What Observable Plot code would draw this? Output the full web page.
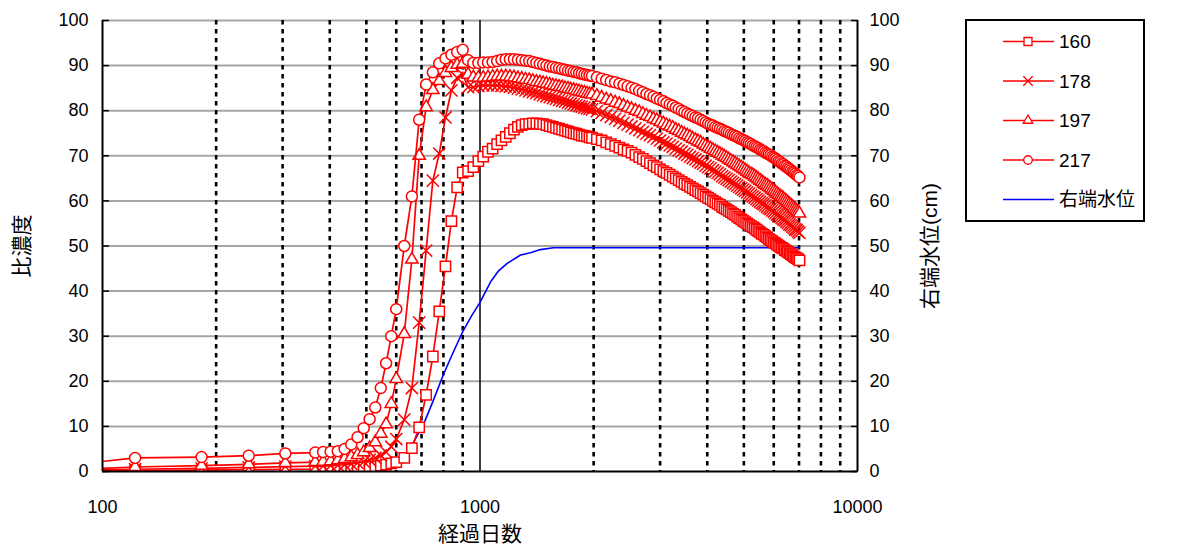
<!DOCTYPE html>
<html><head><meta charset="utf-8">
<script src="https://cdn.jsdelivr.net/npm/d3@7"></script>
<script src="https://cdn.jsdelivr.net/npm/@observablehq/plot@0.6"></script>
<style>
body{margin:0;background:#fff;}
#wrap{position:relative;width:1178px;height:550px;font-family:"Liberation Sans","Noto Sans CJK JP",sans-serif;}
#legend{position:absolute;left:965px;top:19px;width:176px;height:199px;border:2px solid #000;background:#fff;}
#legend svg{display:block;}
</style></head><body><div id="wrap"></div><script>
// ---- data ----
const days = [61,122,183,244,305,
366,384,402,420,438,456,474,492,510,528,546,564,582,
600,630,660,690,720,750,780,810,840,870,900,930,960,990,1020,1050,1080,1110,1140,1170,1200,1230,1260,1290,1320,1350,1380,1410,1440,1470,1500,1530,1560,1590,1620,1650,1680,1710,1740,1770,1800,1830,1860,1890,1920,1950,1980,
2040,2100,2160,2220,2280,2340,2400,2460,
2520,2580,2640,2700,2760,2820,2880,2940,
3000,3060,3120,3180,3240,3300,3360,3420,3480,
3540,3600,3660,3720,3780,3840,3900,3960,
4020,4080,4140,4200,4260,4320,4380,4440,4500,
4560,4620,4680,4740,4800,4860,4920,4980,
5040,5100,5160,5220,5280,5340,5400,5460,
5520,5580,5640,5700,5760,5820,5880,5940,6000,
6060,6120,6180,6240,6300,6360,6420,6480,
6540,6600,6660,6720,6780,6840,6900,6960,7020];

const c160 = [0.0,0.2,0.3,0.4,0.5,
0.5,0.5,0.6,0.6,0.7,0.7,0.8,0.9,1.0,1.1,1.3,1.5,1.8,
2.1,3.0,5.2,9.8,17.0,25.5,35.5,45.5,55.5,63.0,66.3,66.6,67.5,68.8,69.8,70.9,71.6,72.6,73.4,74.2,75.0,75.8,76.4,76.8,77.0,77.1,77.2,77.2,77.1,77.0,76.8,76.6,76.4,76.2,76.0,75.8,75.6,75.4,75.2,75.0,74.9,74.7,74.5,74.4,74.3,74.1,74.0,
73.7,73.4,73.0,72.6,72.2,71.8,71.4,71.1,
70.7,70.2,69.7,69.3,68.8,68.4,67.9,67.5,
67.0,66.6,66.2,65.8,65.4,65.0,64.6,64.2,63.8,
63.5,63.1,62.8,62.4,62.1,61.7,61.4,61.0,
60.7,60.4,60.0,59.7,59.4,59.1,58.7,58.4,58.1,
57.8,57.5,57.2,56.9,56.5,56.2,55.9,55.6,
55.3,55.0,54.7,54.4,54.2,53.9,53.6,53.3,
53.0,52.7,52.5,52.2,51.9,51.6,51.3,51.1,50.8,
50.6,50.3,50.1,49.8,49.6,49.4,49.1,48.9,
48.7,48.4,48.2,48.0,47.7,47.5,47.3,47.1,46.8];

const c178 = [0.0,0.5,0.7,0.9,1.1,
1.2,1.2,1.3,1.4,1.5,1.7,1.9,2.2,2.6,3.0,3.6,4.3,5.5,
7.2,11.5,18.5,33.0,49.0,64.5,70.5,78.5,84.5,87.3,88.0,85.2,85.2,85.5,85.6,85.6,85.6,85.6,85.5,85.4,85.3,85.1,84.9,84.7,84.5,84.3,84.1,83.9,83.6,83.4,83.2,83.0,82.8,82.6,82.4,82.2,82.0,81.8,81.6,81.4,81.2,81.0,80.9,80.7,80.5,80.4,80.3,
79.9,79.5,79.0,78.6,78.2,77.8,77.3,76.9,
76.5,76.1,75.7,75.3,74.9,74.6,74.2,73.8,
73.4,73.0,72.7,72.3,72.0,71.6,71.2,70.9,70.5,
70.2,69.8,69.5,69.2,68.8,68.5,68.2,67.8,
67.5,67.2,66.8,66.5,66.2,65.9,65.5,65.2,64.9,
64.6,64.3,64.0,63.7,63.4,63.1,62.8,62.5,
62.2,61.9,61.6,61.3,61.0,60.7,60.4,60.1,
59.8,59.5,59.3,59.0,58.7,58.4,58.2,57.9,57.6,
57.3,57.0,56.8,56.5,56.2,55.9,55.7,55.4,
55.1,54.8,54.6,54.3,54.0,53.7,53.5,53.2,52.9];

const c197 = [0.0,1.0,1.3,1.6,1.9,
2.1,2.2,2.3,2.5,2.8,3.2,3.7,4.3,5.2,6.5,8.4,10.5,15.0,
20.5,30.5,47.0,70.0,80.8,84.6,86.6,88.4,89.5,90.2,90.4,88.0,87.4,87.3,87.3,87.4,87.5,87.6,87.6,87.6,87.5,87.4,87.2,87.1,86.9,86.8,86.6,86.4,86.3,86.1,86.0,85.8,85.6,85.5,85.3,85.2,85.0,84.9,84.7,84.6,84.4,84.3,84.1,84.0,83.8,83.7,83.6,
83.3,82.9,82.5,82.2,81.8,81.5,81.1,80.7,
80.4,80.0,79.7,79.3,78.9,78.6,78.2,77.9,
77.5,77.2,76.8,76.5,76.2,75.8,75.5,75.1,74.8,
74.5,74.2,73.8,73.5,73.2,72.9,72.5,72.2,
71.9,71.6,71.3,71.0,70.7,70.4,70.1,69.8,69.5,
69.2,68.9,68.6,68.3,68.0,67.7,67.4,67.1,
66.8,66.5,66.2,65.9,65.7,65.4,65.1,64.8,
64.5,64.2,63.9,63.6,63.4,63.1,62.8,62.5,62.2,
61.9,61.6,61.3,61.0,60.8,60.5,60.2,59.9,
59.6,59.3,59.0,58.7,58.4,58.1,57.8,57.5,57.2];

const c217 = [0.3,3.0,3.2,3.5,4.0,
4.2,4.3,4.4,4.5,5.0,6.0,7.6,9.6,11.6,14.2,18.5,24.0,30.0,
36.0,50.0,61.0,78.0,85.8,88.5,90.5,91.6,92.4,93.0,93.5,91.2,90.6,90.6,90.7,90.7,90.8,91.0,91.3,91.4,91.4,91.4,91.3,91.2,91.1,91.0,90.8,90.6,90.4,90.2,90.0,89.8,89.7,89.5,89.4,89.2,89.1,88.9,88.8,88.6,88.5,88.3,88.2,88.0,87.9,87.8,87.7,
87.4,87.1,86.8,86.5,86.3,86.0,85.7,85.4,
85.1,84.8,84.4,84.1,83.7,83.4,83.1,82.7,
82.4,82.1,81.7,81.4,81.1,80.7,80.4,80.0,79.7,
79.4,79.1,78.8,78.5,78.3,78.0,77.7,77.4,
77.1,76.9,76.7,76.4,76.2,76.0,75.8,75.5,75.3,
75.1,74.8,74.6,74.4,74.2,73.9,73.7,73.5,
73.3,73.0,72.8,72.6,72.3,72.1,71.9,71.7,
71.4,71.2,71.0,70.7,70.5,70.3,70.1,69.8,69.6,
69.4,69.1,68.8,68.6,68.3,68.1,67.8,67.6,
67.3,67.1,66.8,66.5,66.3,66.0,65.7,65.5,65.2];

const waterDays = [61,183,366,450,500,550,590,623,667,709,750,800,850,900,950,1000,1066,1120,1183,1281,1360,1446,1566,2000,3000,4000,5000,6000,7020];
const waterLevel = [0,0,0,0.1,0.3,0.7,1.3,3.0,6.5,10.5,15.5,21.5,26.5,31.0,34.5,37.5,42.0,44.5,46.2,48.0,48.5,49.2,49.6,49.6,49.6,49.6,49.6,49.6,49.6];

const seriesNames = ["160","178","197","217"];
const seriesValues = [c160, c178, c197, c217];
const seriesSymbols = ["square","times","triangle2","circle"];
const seriesR = [5.8, 5.6, 5.9, 5.5];
const waterName = "右端水位";

const xTicks = [100, 1000, 10000];
const minorXTicks = [200,300,400,500,600,700,800,900,2000,3000,4000,5000,6000,7000,8000,9000];
const yTicks = [0,10,20,30,40,50,60,70,80,90,100];
const yLabelLeft = "比濃度";
const yLabelRight = "右端水位(cm)";
const xLabel = "経過日数";

const RED = "#ff0000", BLUE = "#0000ff";

// ---- build ----
const series = seriesNames.map((name, i) => days.map((d, j) => ({day: d, value: seriesValues[i][j], name})));
const water = waterDays.map((d, j) => ({day: d, value: waterLevel[j]}));

const marks = [
  Plot.ruleY(yTicks.slice(1), {stroke: "#a6a6a6", strokeWidth: 2}),
  Plot.ruleX(minorXTicks, {stroke: "#000", strokeWidth: 2.6, strokeDasharray: "4.5,4.5"}),
  Plot.ruleX([xTicks[1]], {stroke: "#000", strokeWidth: 1.5}),
  Plot.line(water, {x: "day", y: "value", stroke: BLUE, strokeWidth: 1.6, clip: true})
];
series.forEach((s, i) => {
  marks.push(Plot.line(s, {x: "day", y: "value", stroke: RED, strokeWidth: 1.7, clip: true}));
  marks.push(Plot.dot(s, {x: "day", y: "value", symbol: seriesSymbols[i], r: seriesR[i], stroke: RED, fill: "white", strokeWidth: 1.5, clip: true}));
});
marks.push(
  Plot.ruleX([xTicks[0], xTicks[2]], {stroke: "#000", strokeWidth: 2}),
  Plot.ruleY([yTicks[0]], {stroke: "#000", strokeWidth: 2}),
  Plot.axisY({anchor: "left", ticks: yTicks, tickSize: -7, tickPadding: 21, label: null, strokeWidth: 1.5}),
  Plot.axisY({anchor: "right", ticks: yTicks, tickSize: -7, tickPadding: 19, label: null, strokeWidth: 1.5}),
  Plot.axisX({ticks: xTicks, tickFormat: d3.format("d"), tickSize: 0, tickPadding: 29, label: null}),
  Plot.text([yLabelLeft], {text: d => d, frameAnchor: "left", dx: -80, rotate: -90, textAnchor: "middle", fontSize: 21}),
  Plot.text([yLabelRight], {text: d => d, frameAnchor: "right", dx: 73, rotate: -90, textAnchor: "middle", fontSize: 21}),
  Plot.text([xLabel], {text: d => d, frameAnchor: "bottom", dy: 69, textAnchor: "middle", fontSize: 21})
);

const chart = Plot.plot({
  width: 1178, height: 550,
  marginLeft: 102, marginRight: 321, marginTop: 20, marginBottom: 79,
  style: {fontFamily: '"Liberation Sans","Noto Sans CJK JP",sans-serif', fontSize: "18px", color: "#000", background: "#fff", overflow: "visible"},
  x: {type: "log", domain: [xTicks[0], xTicks[2]]},
  y: {domain: [yTicks[0], yTicks[yTicks.length - 1]]},
  marks
});
document.getElementById("wrap").appendChild(chart);

// ---- legend ----
const symMap = {square: d3.symbolSquare, times: d3.symbolTimes, triangle2: d3.symbolTriangle2, circle: d3.symbolCircle};
const items = seriesNames.map((n, i) => ({name: n, symbol: seriesSymbols[i], r: seriesR[i], color: RED}))
  .concat([{name: waterName, symbol: null, color: BLUE}]);
const lg = d3.select("#wrap").append("div").attr("id", "legend");
const lsvg = lg.append("svg").attr("width", 176).attr("height", 199)
  .style("font-family", '"Liberation Sans","Noto Sans CJK JP",sans-serif');
items.forEach((d, i) => {
  const g = lsvg.append("g").attr("transform", `translate(0,${20.5 + i * 39.5})`);
  g.append("line").attr("x1", 36).attr("x2", 87).attr("stroke", d.color).attr("stroke-width", 1.6);
  if (d.symbol) g.append("path").attr("transform", "translate(61,0)")
    .attr("d", d3.symbol(symMap[d.symbol], Math.PI * d.r * d.r * 0.6)())
    .attr("fill", "white").attr("stroke", d.color).attr("stroke-width", 1.3);
  g.append("text").attr("x", 92).attr("dy", "0.35em").attr("font-size", 19).text(d.name);
});
</script></body></html>
